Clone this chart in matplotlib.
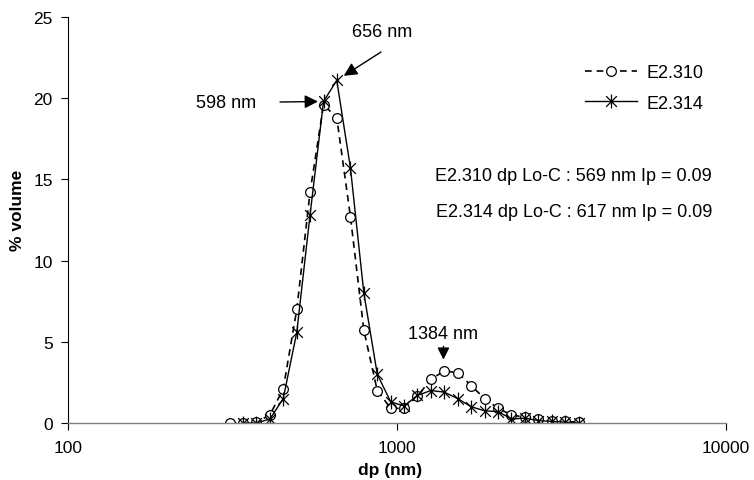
import matplotlib.pyplot as plt
import numpy as np
from matplotlib.path import Path

plt.rcParams['font.family'] = ['Liberation Sans', 'DejaVu Sans']

# size classes (nm) and volume distributions
dp_e310 = [310, 340, 374, 411, 451, 496, 544, 598, 656, 722, 793, 871, 957,
           1051, 1154, 1268, 1393, 1530, 1681, 1847, 2029, 2228, 2448, 2689,
           2954, 3245, 3564]
vol_e310 = [0.0, 0.0, 0.05, 0.5, 2.1, 7.0, 14.2, 19.6, 18.8, 12.7, 5.7, 2.0, 0.9,
            0.9, 1.65, 2.7, 3.2, 3.1, 2.3, 1.5, 0.9, 0.5, 0.35, 0.25,
            0.15, 0.1, 0.05]

dp_e314 = [340, 374, 411, 451, 496, 544, 598, 656, 722, 793, 871, 957,
           1051, 1154, 1268, 1393, 1530, 1681, 1847, 2029, 2228, 2448, 2689,
           2954, 3245, 3564]
vol_e314 = [0.0, 0.0, 0.25, 1.5, 5.6, 12.8, 19.8, 21.1, 15.7, 8.0, 3.0, 1.3,
            1.05, 1.7, 2.0, 1.9, 1.5, 1.0, 0.75, 0.7, 0.25, 0.3, 0.15,
            0.1, 0.05, 0.0]

mode_second = 1384
lo_c_text = ["E2.310 dp Lo-C : 569 nm Ip = 0.09",
             "E2.314 dp Lo-C : 617 nm Ip = 0.09"]

W, H = 754, 481

# asterisk marker: an X with a vertical stroke
star = Path([(-1, -1), (1, 1), (-1, 1), (1, -1), (0, -1.3), (0, 1.3)],
            [Path.MOVETO, Path.LINETO, Path.MOVETO, Path.LINETO, Path.MOVETO, Path.LINETO])

fig = plt.figure(figsize=(W / 100, H / 100), dpi=100)
ax = fig.add_axes([68 / W, 1 - 424 / H, (726 - 68) / W, (424 - 18) / H])

ax.plot(dp_e310, vol_e310, color='black', linestyle=(0, (4, 3)), linewidth=1.2,
        marker='o', markersize=7, markerfacecolor='white', markeredgecolor='black',
        markeredgewidth=0.9, label='E2.310')
ax.plot(dp_e314, vol_e314, color='black', linestyle='-', linewidth=1.0,
        marker=star, markersize=10, markeredgewidth=0.9, label='E2.314')

ax.set_xscale('log')
ax.set_xlim(100, 10000)
ax.set_ylim(0, 25)
ax.set_xticks([100, 1000, 10000])
ax.set_xticklabels(['100', '1000', '10000'])
ax.xaxis.set_minor_locator(plt.NullLocator())
ax.set_yticks([0, 5, 10, 15, 20, 25])

ax.spines['top'].set_visible(False)
ax.spines['right'].set_visible(False)
ax.spines['bottom'].set_color('#808080')
ax.spines['left'].set_color('black')
ax.spines['left'].set_linewidth(0.8)
ax.spines['bottom'].set_linewidth(1.0)
ax.tick_params(axis='both', direction='out', length=5, width=0.8, labelsize=12.5, pad=6)
ax.tick_params(axis='x', pad=7.5)

ax.set_xlabel('dp (nm)', fontsize=12.5, fontweight='bold')
ax.set_ylabel('% volume', fontsize=12.5, fontweight='bold')
ax.xaxis.set_label_coords((390 - 68) / 658, -(463 - 424) / 406)
ax.yaxis.set_label_coords((25 - 68) / 658, (424 - 210) / 406)

arrow = dict(arrowstyle='-|>', color='black', lw=1.0, mutation_scale=20,
             shrinkA=0)

# peak labels
fig.text(382 / W, 1 - 33 / H, '656 nm', fontsize=13, ha='center', va='center')
ax.annotate('', xy=(dp_e314[7], vol_e314[7]), xytext=(381, H - 53),
            textcoords='figure pixels', arrowprops=dict(arrow, shrinkB=6))
fig.text(226 / W, 1 - 103 / H, '598 nm', fontsize=13, ha='center', va='center')
ax.annotate('', xy=(dp_e314[6], vol_e314[6]), xytext=(280, H - 103),
            textcoords='figure pixels', arrowprops=dict(arrow, shrinkB=4))
ax.annotate(f'{mode_second} nm', xy=(mode_second, 3.9), xytext=(mode_second, 5.5),
            fontsize=13, ha='center', va='center',
            arrowprops=dict(arrow, shrinkA=1, shrinkB=0, mutation_scale=18))

for i, txt in enumerate(lo_c_text):
    fig.text(712 / W, 1 - (177 + 36 * i) / H, txt, fontsize=13,
             ha='right', va='center')

ax.legend(loc='upper left', bbox_to_anchor=(585 / W, 1 - 65 / H),
          bbox_transform=fig.transFigure, frameon=False, borderpad=0,
          borderaxespad=0, fontsize=13, handlelength=2.9, handletextpad=0.5,
          labelspacing=0.75)

fig.savefig('out.png', dpi=100)
